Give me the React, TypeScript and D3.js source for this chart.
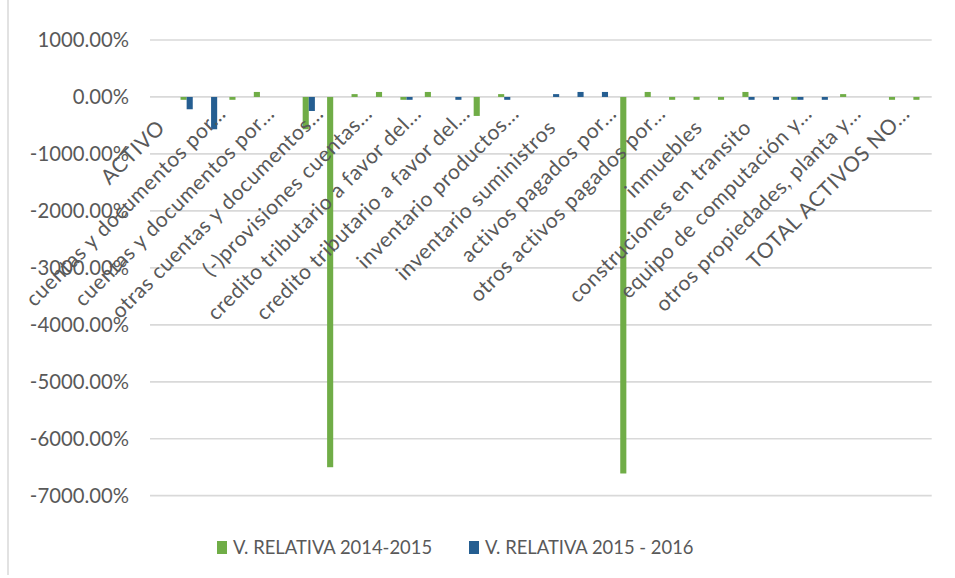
import React, { useEffect, useRef } from 'react';
import * as d3 from 'd3';

// categorias del balance (solo las pares se ven en el eje)
const categories = [
  'ACTIVO',
  'efectivo y equivalentes al efectivo',
  'cuentas y documentos por…',
  'cuentas y documentos por cobrar relacionados',
  'cuentas y documentos por…',
  'otras cuentas por cobrar relacionadas',
  'otras cuentas y documentos…',
  '(-)provisión cuentas incobrables',
  '(-)provisiones cuentas…',
  'credito tributario a favor del sujeto (IVA)',
  'credito tributario a favor del…',
  'credito tributario a favor del sujeto (RENTA)',
  'credito tributario a favor del…',
  'inventario materia prima',
  'inventario productos…',
  'inventario productos terminados',
  'inventario suministros',
  'mercaderias en transito',
  'activos pagados por…',
  'activos pagados por anticipado',
  'otros activos pagados por…',
  'terrenos',
  'inmuebles',
  'muebles y enseres',
  'construciones en transito',
  'maquinaria y equipo',
  'equipo de computación y…',
  'vehiculos',
  'otros propiedades, planta y…',
  '(-)depreciacion acumulada',
  'TOTAL ACTIVOS NO…',
  'TOTAL DEL ACTIVO',
];

const relativa1415 = [
  null, -50, null, -50, 88, null, -567, -6500, 50, 88, -50, 88, null, -333, 50, null,
  null, null, null, -6610, 88, -50, -50, -50, 88, null, -50, null, 50, null, -50, -50,
];

const relativa1516 = [
  null, -216, -567, null, null, null, -246, null, null, null, -50, null, -50, null, -50, null,
  50, 88, 88, null, null, null, null, null, -50, -50, -50, -50, null, null, null, null,
];

const yTicks = [1000, 0, -1000, -2000, -3000, -4000, -5000, -6000, -7000];
const seriesNames = ['V. RELATIVA 2014-2015', 'V. RELATIVA 2015 - 2016'];
const seriesColors = ['#70AD47', '#255E91'];

function Chart() {
  const chartRef = useRef<SVGSVGElement>(null);

  useEffect(() => {
    const svg = d3.select(chartRef.current);
    svg.selectAll('*').remove();

    const width = 955, height = 578;
    const font = 'Lato, "Open Sans", sans-serif';
    const textColor = '#595959';
    const gridColor = '#d9d9d9';

    svg.attr('width', width).attr('height', height).style('font-family', font);

    svg.append('rect').attr('width', width).attr('height', height).attr('fill', '#fff');

    // borde izquierdo del area del grafico
    svg.append('line')
      .attr('x1', 8).attr('x2', 8)
      .attr('y1', 0).attr('y2', 575)
      .attr('stroke', gridColor).attr('stroke-width', 1.5);

    const xScale = d3.scaleBand<number>()
      .domain(categories.map((_, i) => i))
      .range([150, 931.7]);
    const inner = d3.scaleBand<number>()
      .domain([0, 1])
      .range([0, xScale.bandwidth()])
      .paddingOuter(1);
    const yScale = d3.scaleLinear().domain([-7000, 1000]).range([495.7, 40]);

    // lineas de cuadricula
    svg.append('g')
      .selectAll('line')
      .data(yTicks)
      .enter()
      .append('line')
      .attr('x1', 150).attr('x2', 931.7)
      .attr('y1', (d) => yScale(d)).attr('y2', (d) => yScale(d))
      .attr('stroke', gridColor).attr('stroke-width', 1.7);

    // etiquetas eje y
    svg.append('g')
      .selectAll('text')
      .data(yTicks)
      .enter()
      .append('text')
      .attr('x', 129)
      .attr('y', (d) => yScale(d))
      .attr('dy', '0.35em')
      .attr('text-anchor', 'end')
      .attr('font-size', 20.3)
      .attr('fill', textColor)
      .text((d) => d.toFixed(2) + '%');

    // barras
    [relativa1415, relativa1516].forEach((serie, s) => {
      svg.append('g')
        .selectAll('rect')
        .data(serie.map((v, i) => ({ v, i })).filter((d) => d.v !== null))
        .enter()
        .append('rect')
        .attr('x', (d) => (xScale(d.i) as number) + (inner(s) as number))
        .attr('y', (d) => Math.min(yScale(d.v as number), yScale(0)))
        .attr('width', inner.bandwidth())
        .attr('height', (d) => Math.abs(yScale(d.v as number) - yScale(0)))
        .attr('fill', seriesColors[s]);
    });

    // etiquetas de categorias, una si y otra no
    svg.append('g')
      .selectAll('text')
      .data(categories.map((c, i) => ({ c, i })).filter((d) => d.i % 2 === 0))
      .enter()
      .append('text')
      .attr('transform', (d) => {
        const cx = (xScale(d.i) as number) + xScale.bandwidth() / 2;
        const cut = d.c.endsWith('…');
        return `translate(${cx + (cut ? 16 : 4)},${cut ? 115 : 129}) rotate(-45)`;
      })
      .attr('text-anchor', 'end')
      .attr('font-size', 21)
      .attr('letter-spacing', 0.6)
      .attr('fill', textColor)
      .text((d) => d.c);

    // leyenda
    const legendX = [217, 469];
    seriesNames.forEach((name, s) => {
      svg.append('rect')
        .attr('x', legendX[s]).attr('y', 541)
        .attr('width', 10).attr('height', 13)
        .attr('fill', seriesColors[s]);
      svg.append('text')
        .attr('x', legendX[s] + 16).attr('y', 554)
        .attr('font-size', 18.4)
        .attr('fill', textColor)
        .text(name);
    });
  }, []);

  return <svg ref={chartRef} style={{ position: 'absolute', left: 0, top: 0 }}></svg>;
}

export default function App() {
  return <Chart />;
}
